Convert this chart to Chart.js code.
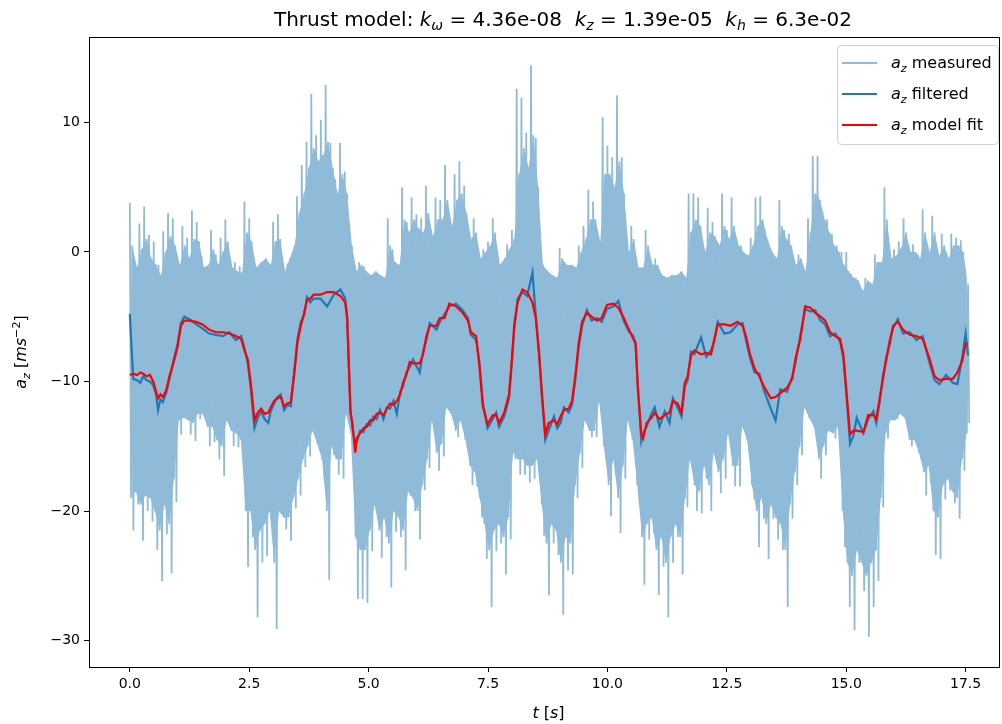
<!DOCTYPE html>
<html>
<head>
<meta charset="utf-8">
<script src="https://cdn.jsdelivr.net/npm/chart.js@4.4.1/dist/chart.umd.min.js"></script>
<style>
  html, body { margin: 0; padding: 0; background: #fff; }
  #wrap { position: relative; width: 1002px; height: 724px; }
</style>
</head>
<body>
<div id="wrap"><canvas id="chart"></canvas></div>
<script>
// thrust model constants shown in the title
const kOmega = "4.36e-08";
const kZ = "1.39e-05";
const kH = "6.3e-02";

// measured a_z per 0.1 s slot (t = 0 .. 17.5):
// highest peak, deepest trough, and a typical second peak / trough
const measStep = 0.1;
const measHi = [
  3.8, -2.5, 2.2, 3.5, 1.3, 0.8, -1.0, 1.6, 3.0, 2.6,
  -3.3, 2.0, 1.1, 3.2, 2.3, -0.3, -2.1, 1.7, -0.2, 1.1,
  2.5, -0.6, -0.8, -1.1, 3.9, 2.6, -1.4, -1.6, -1.7, -3.0,
  2.3, 2.9, -2.3, -0.9, -0.3, 4.3, 6.7, 8.5, 12.2, 9.0,
  10.2, 12.9, 8.4, 5.6, 8.4, 6.2, 0.8, -2.8, -0.8, -1.1,
  -2.0, -2.0, -2.6, -2.6, 2.6, 0.2, -1.1, 5.0, 2.3, 4.2,
  2.9, 2.6, 5.1, 1.7, 4.2, 4.0, 6.7, 2.3, 6.0, 7.0,
  5.1, 1.4, 2.6, -1.4, 0.2, 0.8, 2.6, -2.3, -1.1, 0.6,
  1.7, 12.6, 11.9, 9.2, 14.4, 8.8, -1.7, -1.7, -2.3, -2.6,
  0.3, -0.8, -1.2, -1.7, 0.5, 2.0, 4.8, 3.9, 0.5, 10.4,
  8.2, 7.3, 12.1, 7.3, -1.4, 2.0, -2.0, -2.0, 1.7, -1.4,
  -0.5, -2.6, -2.6, -2.6, -2.3, -2.0, -2.9, 4.5, 4.5, 4.2,
  -0.5, 3.4, 2.3, 0.5, 4.5, 1.7, 4.2, 0.6, 0.5, -0.2,
  1.1, 4.2, 4.3, 1.7, -0.2, -0.8, 4.0, 1.7, 1.4, -1.7,
  -0.2, -2.6, 2.6, 7.4, 7.4, 3.2, 2.5, 1.4, 0.5, 0.0,
  0.0, -1.7, -2.0, -4.8, -2.0, -2.9, -0.2, -0.8, 5.0, -0.5,
  0.2, 0.8, 2.6, 0.5, 0.6, -0.2, 3.3, 0.2, 2.8, -0.2,
  1.4, -0.2, 1.4, 1.1, 0.9, -2.3
];
const measLo = [
  -21.5, -19.5, -22.3, -20.0, -20.8, -23.0, -25.4, -21.8, -24.8, -19.3,
  -14.1, -12.4, -14.1, -14.6, -12.9, -12.1, -15.0, -14.7, -16.0, -17.3,
  -11.9, -15.0, -15.1, -15.3, -24.3, -22.0, -28.2, -24.0, -23.5, -20.5,
  -29.1, -20.2, -21.4, -22.3, -19.8, -18.8, -16.6, -15.8, -13.2, -15.3,
  -17.5, -25.3, -15.7, -17.2, -17.5, -11.3, -14.4, -26.8, -26.8, -27.1,
  -23.1, -19.7, -23.6, -22.0, -25.9, -21.6, -22.0, -24.6, -18.8, -20.0,
  -22.2, -18.4, -16.7, -12.2, -16.9, -15.8, -10.1, -11.9, -14.3, -12.6,
  -15.0, -18.0, -18.1, -20.5, -23.7, -27.4, -23.1, -22.5, -24.9, -22.2,
  -16.0, -17.2, -17.2, -17.8, -17.5, -16.6, -21.9, -26.5, -22.5, -23.4,
  -28.0, -24.6, -24.9, -19.0, -16.7, -12.9, -14.3, -14.3, -10.7, -16.0,
  -20.4, -17.2, -21.7, -17.5, -11.0, -14.7, -19.6, -25.7, -22.2, -21.7,
  -26.5, -24.3, -28.2, -24.0, -22.0, -24.9, -19.7, -16.3, -20.0, -20.2,
  -17.5, -20.0, -16.0, -18.6, -17.5, -13.8, -18.1, -18.1, -12.9, -14.7,
  -19.1, -22.8, -20.6, -23.7, -20.6, -22.2, -23.0, -27.4, -20.6, -18.0,
  -15.7, -10.4, -12.2, -13.5, -17.5, -15.7, -13.8, -14.4, -13.2, -22.8,
  -27.4, -29.2, -24.0, -26.2, -29.7, -27.4, -25.4, -19.7, -14.4, -12.9,
  -12.9, -11.9, -12.2, -15.0, -14.4, -16.0, -18.8, -17.8, -23.4, -23.7,
  -19.1, -18.4, -19.4, -20.6, -16.9, -13.2
];
const measHi2 = [
  0.5, -1.2, 0.2, 1.0, -0.5, -1.0, -1.8, 0.0, 1.2, 0.5,
  -1.0, 0.5, -0.5, 1.0, 0.8, -1.2, -1.0, 0.2, -1.0, 0.0,
  0.8, -1.2, -1.5, -1.6, 1.5, 0.8, -1.2, -0.8, -0.5, -1.0,
  0.8, 1.0, -1.5, -0.5, 0.5, 3.0, 4.5, 6.5, 8.0, 7.0,
  7.5, 8.5, 6.5, 4.5, 6.0, 4.5, 0.5, -1.5, -1.0, -1.5,
  -1.8, -1.5, -1.8, -2.0, 0.5, -0.8, -1.0, 2.5, 1.5, 2.5,
  1.8, 1.5, 3.0, 1.2, 2.5, 2.5, 4.0, 2.0, 4.0, 4.5,
  3.0, 1.0, 1.5, -0.5, 0.0, 0.5, 1.5, -1.0, -0.5, 0.2,
  1.0, 6.0, 8.0, 6.5, 9.0, 5.0, -1.0, -1.5, -1.8, -2.0,
  -0.5, -1.0, -1.0, -1.2, 0.0, 1.0, 2.5, 2.5, 0.8, 6.0,
  6.0, 5.0, 7.0, 4.5, 0.0, 1.0, -1.2, -1.2, 0.5, -1.0,
  -1.0, -1.8, -2.0, -1.8, -1.8, -1.5, -2.0, 1.5, 2.5, 2.0,
  0.0, 1.5, 1.2, 0.5, 2.0, 1.0, 2.0, 0.5, 0.0, -0.3,
  0.5, 2.0, 2.5, 1.0, 0.0, -0.5, 2.0, 1.0, 0.5, -1.0,
  -0.5, -1.5, 1.5, 4.5, 4.0, 2.5, 1.5, 0.5, 0.0, -1.0,
  -1.5, -2.0, -2.2, -3.0, -2.2, -2.5, -0.8, -0.8, 2.5, -0.5,
  -0.3, 0.3, 1.5, 0.0, 0.0, -0.5, 1.5, 0.0, 1.5, -0.3,
  0.5, -0.5, 0.5, 0.5, 0.0, -2.5
];
const measLo2 = [
  -19.0, -18.5, -19.5, -18.8, -19.0, -20.0, -21.5, -19.5, -21.0, -17.5,
  -13.0, -12.8, -13.0, -13.2, -12.5, -12.5, -13.5, -13.5, -14.5, -15.0,
  -13.0, -13.8, -14.0, -14.5, -20.0, -20.0, -23.0, -21.5, -21.0, -20.0,
  -24.0, -20.0, -20.5, -20.5, -19.0, -17.5, -16.0, -15.0, -13.8, -14.8,
  -16.0, -20.0, -15.0, -16.0, -16.0, -12.5, -14.0, -22.0, -23.0, -23.0,
  -21.5, -19.5, -21.5, -20.5, -22.5, -20.0, -20.5, -21.5, -18.5, -19.0,
  -20.0, -18.0, -16.0, -13.0, -15.5, -14.8, -12.0, -12.5, -13.8, -13.0,
  -14.5, -16.5, -17.0, -19.0, -21.0, -23.0, -21.5, -21.0, -22.0, -20.5,
  -15.5, -16.0, -16.0, -16.5, -16.5, -16.0, -19.5, -22.5, -21.0, -21.5,
  -24.0, -22.0, -22.5, -18.0, -15.5, -13.0, -13.8, -13.8, -11.5, -15.0,
  -18.0, -16.0, -19.0, -16.5, -13.0, -14.5, -18.0, -22.0, -21.0, -20.5,
  -23.0, -22.0, -24.0, -22.0, -21.0, -22.0, -19.0, -16.0, -18.0, -18.5,
  -16.5, -18.0, -15.5, -17.0, -16.0, -14.0, -16.5, -16.5, -13.5, -14.5,
  -18.0, -20.0, -19.0, -21.0, -19.5, -20.5, -21.0, -23.0, -19.5, -17.0,
  -15.0, -12.0, -12.8, -13.5, -16.0, -15.0, -13.8, -14.0, -13.5, -20.0,
  -24.0, -25.0, -23.0, -24.0, -25.0, -24.0, -23.0, -19.0, -14.0, -13.0,
  -13.0, -12.5, -12.8, -14.5, -14.5, -15.5, -17.0, -16.5, -20.0, -20.5,
  -18.0, -17.5, -18.5, -19.0, -16.0, -14.0
];

// filtered and model-fit a_z, read at these times [s]
const lineTime = [
  0.00, 0.07, 0.15, 0.22, 0.28, 0.35, 0.42, 0.49, 0.55, 0.59,
  0.64, 0.69, 0.76, 0.83, 0.94, 1.00, 1.07, 1.14, 1.25, 1.39,
  1.52, 1.66, 1.80, 1.95, 2.08, 2.22, 2.33, 2.40, 2.47, 2.54,
  2.61, 2.68, 2.75, 2.82, 2.90, 2.95, 3.02, 3.09, 3.16, 3.23,
  3.30, 3.37, 3.44, 3.51, 3.58, 3.65, 3.71, 3.78, 3.85, 3.99,
  4.13, 4.27, 4.41, 4.51, 4.55, 4.58, 4.62, 4.66, 4.72, 4.75,
  4.82, 4.89, 4.96, 5.03, 5.10, 5.17, 5.24, 5.31, 5.38, 5.45,
  5.52, 5.59, 5.66, 5.72, 5.79, 5.86, 5.93, 6.07, 6.14, 6.21,
  6.28, 6.42, 6.49, 6.59, 6.69, 6.83, 6.97, 7.08, 7.14, 7.25,
  7.32, 7.39, 7.49, 7.60, 7.67, 7.73, 7.84, 7.94, 8.00, 8.05,
  8.12, 8.22, 8.32, 8.43, 8.50, 8.57, 8.63, 8.70, 8.77, 8.88,
  8.95, 9.02, 9.09, 9.19, 9.26, 9.33, 9.40, 9.47, 9.57, 9.67,
  9.78, 9.88, 9.99, 10.12, 10.23, 10.33, 10.44, 10.54, 10.59, 10.64,
  10.71, 10.75, 10.82, 10.92, 10.99, 11.09, 11.20, 11.30, 11.37, 11.47,
  11.55, 11.62, 11.68, 11.75, 11.82, 11.96, 12.07, 12.17, 12.24, 12.31,
  12.45, 12.58, 12.72, 12.83, 12.90, 12.98, 13.08, 13.18, 13.28, 13.42,
  13.52, 13.62, 13.76, 13.87, 13.94, 14.04, 14.14, 14.25, 14.35, 14.46,
  14.56, 14.66, 14.77, 14.87, 14.94, 15.01, 15.08, 15.15, 15.22, 15.36,
  15.46, 15.57, 15.63, 15.70, 15.77, 15.84, 15.91, 15.98, 16.08, 16.19,
  16.33, 16.47, 16.60, 16.74, 16.85, 16.95, 17.09, 17.23, 17.33, 17.43,
  17.50, 17.55
];
const filtAz = [
  -4.8, -9.8, -9.9, -10.1, -9.6, -9.9, -10.0, -10.3, -11.0, -12.2,
  -11.4, -11.6, -10.9, -9.8, -8.0, -7.1, -5.5, -5.0, -5.2, -5.6,
  -5.9, -6.3, -6.4, -6.5, -6.2, -6.8, -6.5, -7.4, -8.6, -10.8,
  -13.6, -12.8, -12.3, -12.9, -13.2, -12.3, -11.7, -11.2, -11.0, -12.2,
  -11.8, -11.9, -9.3, -6.7, -5.4, -4.9, -3.5, -3.9, -3.6, -3.6,
  -4.2, -3.3, -2.9, -3.6, -5.0, -8.0, -12.2, -13.6, -15.0, -14.7,
  -13.8, -13.9, -13.3, -13.4, -12.7, -12.9, -12.2, -12.9, -12.0, -12.1,
  -11.5, -12.5, -10.8, -10.4, -9.3, -8.9, -8.3, -9.3, -7.7, -6.8,
  -5.5, -6.0, -5.4, -4.8, -4.2, -4.0, -4.5, -5.1, -6.4, -6.8,
  -8.5, -11.6, -13.6, -12.9, -12.4, -13.5, -12.7, -11.3, -8.5, -5.9,
  -3.6, -3.1, -3.4, -1.6, -4.9, -7.7, -11.3, -14.5, -13.8, -12.7,
  -13.6, -13.2, -12.0, -12.4, -11.8, -9.8, -7.3, -5.7, -4.5, -5.3,
  -5.1, -5.4, -4.4, -4.2, -3.8, -5.2, -6.1, -6.5, -7.2, -10.5,
  -14.6, -14.0, -13.5, -12.5, -12.0, -13.5, -12.3, -13.2, -11.3, -12.0,
  -12.7, -10.4, -9.9, -7.7, -7.9, -6.6, -8.1, -7.6, -6.9, -5.4,
  -6.3, -6.2, -5.6, -5.5, -6.8, -8.1, -9.3, -9.4, -10.7, -12.1,
  -13.0, -10.6, -10.8, -9.6, -8.5, -6.4, -4.4, -4.6, -4.5, -5.3,
  -5.6, -6.5, -6.3, -6.9, -8.2, -11.3, -14.8, -14.2, -12.8, -14.0,
  -12.9, -12.3, -13.2, -11.6, -9.5, -8.4, -6.8, -5.9, -5.2, -6.3,
  -6.2, -6.8, -6.5, -8.5, -9.9, -10.2, -9.5, -10.1, -10.2, -8.1,
  -6.3, -8.0
];
const fitAz = [
  -9.5, -9.4, -9.5, -9.3, -9.4, -9.6, -9.5, -10.0, -10.8, -11.3,
  -11.0, -11.2, -10.7, -9.6, -8.2, -7.3, -5.7, -5.3, -5.3, -5.4,
  -5.6, -6.0, -6.2, -6.2, -6.3, -6.5, -6.7, -7.6, -8.3, -10.4,
  -13.0, -12.4, -12.1, -12.5, -12.4, -12.0, -11.5, -11.3, -11.2, -11.9,
  -11.7, -11.6, -9.5, -7.0, -5.7, -4.7, -3.7, -3.6, -3.3, -3.3,
  -3.1, -3.1, -3.4, -3.9, -5.1, -8.2, -12.4, -13.2, -15.5, -14.4,
  -14.0, -13.6, -13.5, -13.0, -13.0, -12.5, -12.4, -12.6, -12.1, -11.7,
  -11.8, -11.5, -11.0, -10.1, -9.5, -8.5, -8.6, -8.6, -7.9, -6.5,
  -5.7, -5.7, -5.1, -5.1, -4.0, -4.2, -4.7, -5.3, -6.2, -6.5,
  -8.8, -11.9, -13.3, -12.6, -12.6, -13.2, -12.4, -11.0, -8.2, -5.6,
  -3.9, -2.9, -3.1, -3.9, -5.1, -8.0, -11.0, -14.1, -13.2, -13.0,
  -13.3, -12.7, -12.2, -12.1, -11.5, -9.5, -7.0, -5.4, -4.7, -5.0,
  -5.3, -5.1, -4.1, -4.0, -4.3, -5.0, -5.9, -6.7, -7.0, -10.7,
  -14.1, -14.4, -13.2, -12.8, -12.4, -12.9, -12.6, -12.4, -11.5, -11.7,
  -12.4, -10.1, -9.6, -8.0, -7.6, -7.9, -7.8, -7.9, -6.7, -5.6,
  -5.6, -5.7, -5.4, -5.7, -6.5, -7.8, -9.0, -9.6, -10.4, -11.3,
  -11.2, -10.9, -10.5, -9.8, -8.2, -6.7, -4.2, -4.3, -4.7, -5.0,
  -5.3, -6.2, -6.5, -6.7, -7.9, -11.0, -14.1, -13.8, -13.8, -13.9,
  -12.6, -12.6, -12.9, -11.3, -9.8, -8.1, -7.1, -5.7, -5.4, -6.0,
  -6.4, -6.5, -6.7, -8.2, -9.6, -9.9, -9.8, -9.8, -9.3, -8.4,
  -7.1, -7.1
];

// axis ticks
const xTicks = [0, 2.5, 5, 7.5, 10, 12.5, 15, 17.5];
const yTicks = [-30, -20, -10, 0, 10];
const legendLabels = ["measured", "filtered", "model fit"];

const colMeas = "#8fbbd9";
const colFilt = "#1f77b4";
const colFit = "#ff0000";
const FONT = '"DejaVu Sans", sans-serif';

// four turning points per slot: peak, 2nd trough, 2nd peak, trough
const measured = [];
const bandTop = [];
const bandBottom = [];
measHi.forEach((v, i) => {
  const t = i * measStep;
  measured.push({ x: t, y: v });
  measured.push({ x: t + measStep * 0.25, y: measLo2[i] });
  measured.push({ x: t + measStep * 0.5, y: measHi2[i] });
  measured.push({ x: t + measStep * 0.75, y: measLo[i] });
  bandTop.push({ x: t + measStep * 0.5, y: measHi2[i] });
  bandBottom.push({ x: t + measStep * 0.25, y: measLo2[i] });
});
const filtered = lineTime.map((t, i) => ({ x: t, y: filtAz[i] }));
const fitted = lineTime.map((t, i) => ({ x: t, y: fitAz[i] }));

// text with italic / sub / superscript pieces
function runFont(r, size) {
  const s = r.sub || r.sup ? size * 0.7 : size;
  return (r.it ? "italic " : "") + s + "px " + FONT;
}
function runsWidth(ctx, runs, size) {
  let w = 0;
  runs.forEach(r => { ctx.font = runFont(r, size); w += ctx.measureText(r.t).width; });
  return w;
}
function drawRuns(ctx, runs, x, y, size, align) {
  let cx = align === "center" ? x - runsWidth(ctx, runs, size) / 2 : x;
  ctx.textBaseline = "alphabetic";
  ctx.textAlign = "left";
  runs.forEach(r => {
    ctx.font = runFont(r, size);
    const dy = r.sub ? size * 0.22 : r.sup ? -size * 0.4 : 0;
    ctx.fillText(r.t, cx, y + dy);
    cx += ctx.measureText(r.t).width;
  });
}

const titleRuns = [
  { t: "Thrust model: " },
  { t: "k", it: 1 }, { t: "\u03c9", it: 1, sub: 1 }, { t: " = " + kOmega + "  " },
  { t: "k", it: 1 }, { t: "z", it: 1, sub: 1 }, { t: " = " + kZ + "  " },
  { t: "k", it: 1 }, { t: "h", it: 1, sub: 1 }, { t: " = " + kH }
];
const yLabelRuns = [
  { t: "a", it: 1 }, { t: "z", it: 1, sub: 1 }, { t: " [" },
  { t: "ms", it: 1 }, { t: "\u22122", sup: 1 }, { t: "]" }
];
const xLabelRuns = [{ t: "t", it: 1 }, { t: " [" }, { t: "s", it: 1 }, { t: "]" }];

const decor = {
  id: "decor",
  afterDraw(chart) {
    const ctx = chart.ctx;
    const a = chart.chartArea;
    ctx.save();
    // frame
    ctx.strokeStyle = "#000";
    ctx.lineWidth = 1;
    ctx.strokeRect(Math.round(a.left) + 0.5, Math.round(a.top) + 0.5,
      Math.round(a.right - a.left) - 1, Math.round(a.bottom - a.top));
    ctx.fillStyle = "#000";
    drawRuns(ctx, titleRuns, 563, 26, 20, "center");
    drawRuns(ctx, xLabelRuns, (a.left + a.right) / 2 + 4, 718, 16, "center");
    ctx.save();
    ctx.translate(26, (a.top + a.bottom) / 2);
    ctx.rotate(-Math.PI / 2);
    drawRuns(ctx, yLabelRuns, 0, 0, 16, "center");
    ctx.restore();

    // legend
    const lx = 837, ly = 45, lw = 161, lh = 99;
    ctx.beginPath();
    ctx.roundRect(lx + 0.5, ly + 0.5, lw, lh, 4);
    ctx.fillStyle = "rgba(255,255,255,0.85)";
    ctx.fill();
    ctx.strokeStyle = "#d0d0d0";
    ctx.stroke();
    const cols = [colMeas, colFilt, colFit];
    const rowY = [63, 94, 125];
    legendLabels.forEach((lab, i) => {
      ctx.beginPath();
      ctx.strokeStyle = cols[i];
      ctx.lineWidth = 2;
      ctx.moveTo(842, rowY[i]);
      ctx.lineTo(877, rowY[i]);
      ctx.stroke();
      ctx.fillStyle = "#000";
      drawRuns(ctx, [{ t: "a", it: 1 }, { t: "z", it: 1, sub: 1 }, { t: " " + lab }], 891, rowY[i] + 5, 16, "left");
    });
    ctx.restore();
  }
};

new Chart(document.getElementById("chart").getContext("2d"), {
  type: "line",
  data: {
    datasets: [
      { label: "measured", data: measured, borderColor: colMeas, borderWidth: 1.8, order: 3 },
      { label: "filtered", data: filtered, borderColor: colFilt, borderWidth: 2.2, order: 2 },
      { label: "model fit", data: fitted, borderColor: colFit, borderWidth: 2.2, order: 1 },
      { label: "band top", data: bandTop, borderWidth: 0, borderColor: colMeas,
        backgroundColor: colMeas, fill: "+1", order: 5 },
      { label: "band bottom", data: bandBottom, borderWidth: 0, borderColor: colMeas,
        backgroundColor: colMeas, fill: false, order: 5 }
    ]
  },
  options: {
    responsive: true,
    maintainAspectRatio: false,
    animation: false,
    events: [],
    elements: { point: { radius: 0 }, line: { tension: 0, fill: false } },
    layout: { padding: { top: 37, left: 0, right: 2, bottom: 0 } },
    plugins: { legend: { display: false }, title: { display: false }, tooltip: { enabled: false } },
    scales: {
      x: {
        type: "linear",
        min: -0.855,
        max: 18.22,
        afterFit: s => { s.height = 57; },
        afterBuildTicks: s => { s.ticks = xTicks.map(v => ({ value: v })); },
        grid: { drawOnChartArea: false, drawTicks: true, tickLength: 5, color: "#000" },
        border: { display: false },
        ticks: {
          autoSkip: false, maxRotation: 0, padding: 4, color: "#000",
          font: { family: FONT, size: 14 },
          callback: v => v.toFixed(1)
        }
      },
      y: {
        min: -32.04,
        max: 16.59,
        afterFit: s => { s.width = 89; },
        afterBuildTicks: s => { s.ticks = yTicks.map(v => ({ value: v })); },
        grid: { drawOnChartArea: false, drawTicks: true, tickLength: 5, color: "#000" },
        border: { display: false },
        ticks: {
          autoSkip: false, padding: 4, color: "#000",
          font: { family: FONT, size: 14 },
          callback: v => (v < 0 ? "\u2212" : "") + Math.abs(v)
        }
      }
    }
  },
  plugins: [decor]
});
</script>
</body>
</html>
